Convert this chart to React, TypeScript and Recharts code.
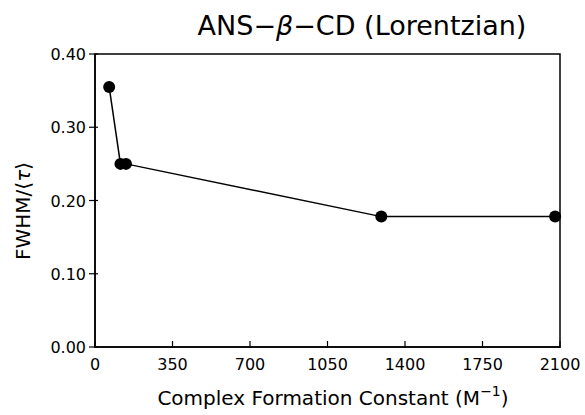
import React from "react";
import { LineChart, Line, XAxis, YAxis, ReferenceArea } from "recharts";

const constants = [64, 115, 140, 1293, 2078];
const fwhm = [0.355, 0.25, 0.25, 0.178, 0.178];
const xTicks = [0, 350, 700, 1050, 1400, 1750, 2100];
const yTicks = [0, 0.1, 0.2, 0.3, 0.4];

const data = constants.map((k, i) => ({ k, v: fwhm[i] }));

const FONT = "'DejaVu Sans', sans-serif";

const XTick = (props: any) => {
  const { x, y, payload } = props;
  return (
    <g>
      <line x1={x} x2={x} y1={y - 6} y2={y + 1} stroke="#000" strokeWidth={1.2} />
      <text x={x} y={y + 23} textAnchor="middle" fontSize={16} fontFamily={FONT} fill="#000">
        {payload.value}
      </text>
    </g>
  );
};

const YTick = (props: any) => {
  const { x, y, payload } = props;
  return (
    <g>
      <line x1={x - 6} x2={x + 3} y1={y} y2={y} stroke="#000" strokeWidth={1.2} />
      <text x={x - 9} y={y + 6} textAnchor="end" fontSize={16} fontFamily={FONT} fill="#000">
        {Number(payload.value).toFixed(2)}
      </text>
    </g>
  );
};

export default function App() {
  return (
    <div style={{ position: "relative", width: 585, height: 415, background: "#fff", overflow: "hidden" }}>
      <style>{"html,body{margin:0;padding:0;overflow:hidden;}"}</style>
      <LineChart
        width={585}
        height={415}
        data={data}
        margin={{ top: 54, right: 25, bottom: 38, left: 0 }}
      >
        <XAxis
          dataKey="k"
          type="number"
          domain={[0, 2100]}
          ticks={xTicks}
          height={30}
          tickSize={0}
          tickMargin={0}
          tickLine={false}
          axisLine={{ stroke: "#000", strokeWidth: 1.5 }}
          tick={<XTick />}
          interval={0}
        />
        <YAxis
          type="number"
          domain={[0, 0.4]}
          ticks={yTicks}
          width={95}
          tickSize={0}
          tickMargin={0}
          tickLine={false}
          axisLine={{ stroke: "#000", strokeWidth: 1.5 }}
          tick={<YTick />}
          interval={0}
        />
        <ReferenceArea x1={0} x2={2100} y1={0} y2={0.4} fill="none" stroke="#000" strokeWidth={1.5} />
        <Line
          dataKey="v"
          stroke="#000"
          strokeWidth={1.5}
          dot={{ r: 6, fill: "#000", stroke: "#000", strokeWidth: 0 }}
          isAnimationActive={false}
        />
      </LineChart>
      <div
        style={{
          position: "absolute",
          left: 162,
          top: 10,
          width: 400,
          textAlign: "center",
          fontFamily: FONT,
          fontSize: 27,
          lineHeight: "normal",
          color: "#000",
          whiteSpace: "nowrap",
        }}
      >
        ANS−<i>β</i>−CD (Lorentzian)
      </div>
      <div
        style={{
          position: "absolute",
          left: 113,
          top: 386,
          width: 440,
          textAlign: "center",
          fontFamily: FONT,
          fontSize: 20,
          lineHeight: "24px",
          color: "#000",
          whiteSpace: "nowrap",
        }}
      >
        Complex Formation Constant (M
        <span style={{ fontSize: 14, position: "relative", top: -9 }}>−1</span>)
      </div>
      <div
        style={{
          position: "absolute",
          left: 23,
          top: 211,
          width: 0,
          height: 0,
          fontFamily: FONT,
          fontSize: 20,
          color: "#000",
          whiteSpace: "nowrap",
        }}
      >
        <div style={{ transform: "translate(-50%, -50%) rotate(-90deg)", position: "absolute", left: 0, top: 0 }}>
          FWHM/⟨<i>τ</i>⟩
        </div>
      </div>
    </div>
  );
}
